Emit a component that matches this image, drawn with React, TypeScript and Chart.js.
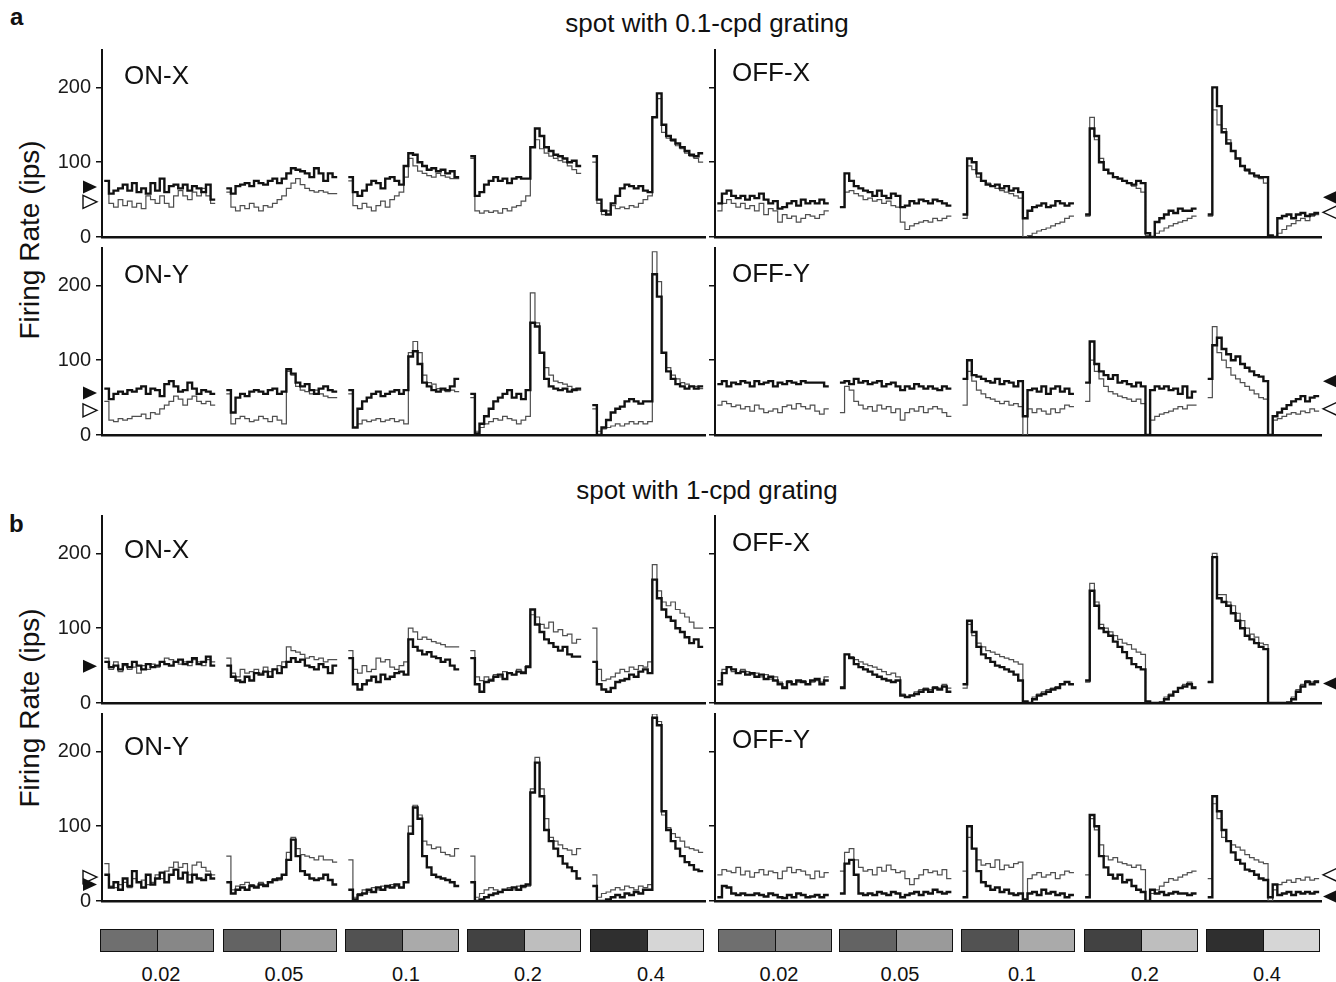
import React, { useEffect, useRef } from 'react';
import { Chart, registerables } from 'chart.js';

Chart.register(...registerables);

const FONT = '"Liberation Sans", Arial, Helvetica, sans-serif';

// ---- structure ----
const BINS = 24; // bins per contrast segment
const GAP = 2.4; // gap between segments (in bins)
const Y_TICKS = [0, 100, 200];
const Y_MAX = 250;
const contrasts = ['0.02', '0.05', '0.1', '0.2', '0.4'];
const darkShade = ['#6f6f6f', '#636363', '#525252', '#424242', '#2f2f2f'];
const lightShade = ['#878787', '#9a9a9a', '#aaaaaa', '#bebebe', '#d6d6d6'];

// ---- a: spot with 0.1-cpd grating ----
const aOnXThick = [
  75, 58, 62, 65, 70, 62, 72, 60, 65, 58, 72, 62, 78, 60, 68, 70, 65, 70, 62, 68, 65, 60, 70, 50,
  65, 58, 68, 70, 72, 68, 75, 72, 70, 75, 78, 72, 78, 85, 92, 90, 88, 85, 80, 92, 85, 75, 85, 80,
  80, 60, 55, 62, 70, 75, 72, 65, 78, 80, 75, 70, 95, 112, 110, 100, 95, 90, 92, 88, 90, 85, 88, 80,
  108, 55, 60, 70, 75, 80, 75, 78, 72, 78, 80, 78, 78, 120, 145, 135, 120, 115, 110, 108, 105, 100, 102, 95,
  108, 50, 35, 30, 45, 55, 65, 70, 68, 65, 68, 62, 60, 160, 192, 150, 135, 130, 125, 120, 115, 110, 108, 112,
];
const aOnXThin = [
  75, 45, 40, 50, 42, 48, 40, 45, 38, 55, 50, 45, 55, 45, 40, 55, 62, 55, 50, 60, 55, 65, 55, 45,
  60, 40, 35, 42, 38, 45, 40, 35, 42, 40, 45, 50, 55, 65, 72, 78, 70, 65, 62, 60, 62, 60, 58, 58,
  75, 42, 38, 45, 40, 35, 42, 48, 40, 50, 55, 60, 80, 105, 95, 88, 85, 82, 80, 85, 82, 80, 78, 78,
  105, 35, 32, 35, 33, 35, 32, 38, 35, 40, 42, 48, 55, 120, 130, 118, 112, 108, 105, 102, 100, 95, 90, 85,
  100, 45, 30, 35, 42, 38, 40, 38, 42, 40, 45, 50, 55, 160, 185, 140, 132, 128, 122, 118, 112, 108, 105, 100,
];
const aOffXThick = [
  45, 58, 62, 55, 52, 55, 50, 55, 52, 58, 50, 45, 48, 38, 40, 45, 48, 42, 50, 45, 48, 45, 50, 45,
  40, 85, 75, 68, 65, 62, 60, 55, 62, 55, 52, 58, 55, 40, 42, 48, 45, 50, 48, 45, 50, 48, 45, 42,
  30, 105, 100, 85, 75, 70, 68, 70, 65, 68, 62, 65, 60, 25, 35, 40, 42, 45, 40, 42, 48, 45, 42, 45,
  30, 145, 135, 100, 90, 85, 80, 78, 75, 72, 70, 75, 72, 5, 0, 20, 25, 30, 35, 32, 38, 35, 35, 38,
  30, 200, 175, 140, 125, 115, 105, 95, 90, 85, 82, 80, 80, 2, 0, 25, 28, 30, 25, 30, 32, 28, 30, 32,
];
const aOffXThin = [
  35, 45, 50, 45, 40, 45, 38, 42, 35, 45, 30, 38, 35, 20, 30, 25, 28, 20, 25, 30, 28, 25, 30, 35,
  40, 60, 62, 58, 55, 50, 52, 48, 50, 45, 48, 42, 40, 20, 10, 15, 18, 20, 22, 20, 25, 22, 25, 28,
  25, 95, 90, 80, 75, 72, 68, 65, 62, 60, 58, 55, 52, 0, 2, 5, 8, 10, 12, 15, 18, 20, 25, 28,
  28, 160, 130, 105, 90, 85, 80, 78, 75, 72, 68, 65, 60, 2, 0, 5, 8, 12, 15, 18, 20, 22, 25, 28,
  28, 170, 150, 145, 130, 115, 105, 95, 88, 85, 80, 78, 72, 2, 0, 5, 10, 15, 18, 22, 25, 22, 28, 30,
];
const aOnYThick = [
  62, 48, 55, 58, 55, 60, 58, 62, 65, 55, 62, 60, 52, 68, 72, 65, 58, 60, 70, 62, 55, 60, 58, 55,
  60, 30, 50, 55, 52, 58, 60, 58, 55, 60, 62, 55, 58, 88, 82, 70, 65, 68, 60, 55, 62, 65, 60, 58,
  60, 10, 35, 45, 50, 55, 58, 52, 55, 58, 60, 55, 60, 105, 112, 95, 70, 65, 60, 58, 62, 60, 65, 75,
  55, 2, 15, 25, 35, 45, 50, 55, 60, 50, 55, 48, 60, 150, 145, 110, 75, 65, 62, 60, 62, 58, 60, 62,
  40, 0, 10, 20, 30, 35, 38, 45, 48, 45, 42, 45, 45, 215, 185, 110, 85, 75, 68, 65, 62, 65, 62, 65,
];
const aOnYThin = [
  45, 20, 18, 22, 20, 22, 25, 25, 28, 22, 30, 28, 35, 40, 45, 52, 48, 40, 48, 52, 45, 42, 45, 40,
  55, 15, 22, 25, 22, 18, 20, 25, 22, 18, 25, 20, 15, 85, 80, 65, 60, 58, 55, 60, 55, 52, 50, 50,
  55, 10, 15, 20, 18, 20, 22, 18, 20, 22, 18, 20, 15, 110, 125, 110, 80, 70, 68, 62, 60, 58, 60, 58,
  50, 5, 10, 15, 18, 22, 20, 25, 22, 20, 15, 20, 25, 190, 150, 110, 90, 80, 72, 70, 68, 65, 62, 60,
  35, 5, 8, 10, 12, 15, 12, 15, 18, 15, 18, 15, 18, 245, 205, 110, 90, 80, 75, 70, 68, 65, 65, 62,
];
const aOffYThick = [
  68, 72, 65, 70, 68, 72, 70, 65, 72, 68, 70, 72, 65, 70, 68, 72, 70, 68, 72, 70, 70, 70, 70, 65,
  70, 72, 68, 75, 70, 72, 68, 70, 72, 65, 68, 70, 65, 60, 65, 62, 68, 65, 62, 65, 62, 60, 65, 62,
  75, 100, 80, 78, 75, 72, 70, 75, 68, 72, 70, 65, 72, 25, 60, 62, 58, 65, 55, 62, 65, 58, 62, 55,
  70, 125, 95, 85, 80, 75, 80, 70, 72, 68, 65, 70, 65, 0, 60, 65, 62, 65, 60, 62, 55, 65, 50, 58,
  75, 120, 130, 115, 108, 100, 105, 95, 90, 85, 80, 78, 72, 0, 25, 30, 35, 40, 45, 48, 52, 45, 50, 52,
];
const aOffYThin = [
  40, 45, 42, 38, 40, 35, 38, 32, 40, 35, 30, 32, 35, 30, 38, 40, 35, 42, 38, 35, 40, 32, 28, 35,
  30, 65, 60, 45, 40, 35, 38, 32, 40, 35, 38, 30, 35, 20, 30, 35, 32, 38, 30, 35, 38, 35, 30, 25,
  40, 85, 72, 60, 55, 50, 48, 45, 42, 45, 40, 42, 38, 0, 35, 30, 35, 32, 28, 35, 30, 35, 40, 38,
  45, 100, 85, 75, 65, 58, 55, 52, 50, 48, 45, 48, 42, 0, 20, 25, 28, 30, 32, 35, 38, 35, 40, 40,
  50, 145, 110, 100, 90, 80, 75, 70, 65, 60, 55, 50, 48, 0, 20, 22, 25, 28, 30, 28, 32, 30, 35, 32,
];

// ---- b: spot with 1-cpd grating ----
const bOnXThick = [
  55, 48, 50, 45, 52, 48, 55, 50, 45, 52, 48, 50, 55, 52, 50, 55, 58, 52, 55, 60, 52, 55, 62, 50,
  50, 35, 30, 28, 35, 30, 40, 38, 42, 35, 45, 40, 48, 55, 60, 55, 58, 50, 48, 45, 52, 48, 40, 50,
  60, 25, 18, 25, 30, 35, 28, 38, 32, 35, 40, 42, 38, 85, 75, 70, 65, 68, 62, 60, 55, 58, 50, 45,
  60, 25, 15, 28, 30, 35, 38, 32, 40, 38, 42, 40, 48, 125, 105, 95, 85, 80, 75, 70, 75, 65, 62, 62,
  55, 25, 18, 15, 20, 28, 30, 32, 38, 35, 42, 45, 40, 165, 140, 125, 115, 110, 100, 95, 88, 80, 85, 75,
];
const bOnXThin = [
  60, 45, 55, 42, 50, 45, 48, 40, 50, 45, 52, 48, 55, 60, 58, 55, 52, 55, 50, 58, 55, 50, 58, 55,
  60, 40, 35, 45, 40, 42, 45, 40, 48, 42, 45, 50, 55, 75, 70, 68, 65, 60, 62, 58, 60, 55, 58, 58,
  70, 45, 40, 50, 42, 45, 60, 55, 58, 48, 45, 50, 55, 100, 95, 85, 88, 85, 82, 80, 78, 75, 75, 75,
  70, 35, 30, 35, 32, 38, 35, 42, 40, 38, 45, 42, 50, 118, 115, 105, 100, 108, 95, 98, 90, 92, 80, 85,
  100, 45, 30, 32, 35, 40, 45, 42, 48, 45, 50, 48, 55, 185, 150, 135, 130, 135, 125, 120, 115, 108, 100, 100,
];
const bOffXThick = [
  25, 40, 48, 45, 40, 42, 38, 40, 35, 38, 32, 35, 30, 25, 20, 28, 25, 30, 28, 25, 30, 32, 25, 30,
  20, 65, 60, 52, 48, 45, 42, 38, 35, 32, 30, 28, 30, 10, 8, 10, 12, 15, 18, 15, 20, 18, 22, 15,
  25, 110, 95, 75, 65, 60, 55, 50, 48, 45, 42, 38, 30, 2, 0, 5, 10, 12, 15, 18, 20, 25, 28, 25,
  30, 150, 130, 100, 95, 90, 82, 75, 68, 60, 52, 48, 45, 2, 0, 0, 0, 5, 10, 15, 20, 22, 25, 20,
  28, 195, 140, 135, 130, 120, 110, 100, 90, 85, 80, 75, 72, 0, 0, 0, 0, 0, 5, 15, 22, 28, 25, 28,
];
const bOffXThin = [
  30, 45, 48, 42, 40, 45, 42, 38, 40, 35, 38, 32, 35, 28, 22, 30, 25, 28, 30, 25, 28, 30, 28, 35,
  22, 65, 62, 58, 55, 52, 50, 48, 45, 42, 38, 40, 35, 12, 8, 10, 15, 18, 20, 18, 22, 20, 25, 20,
  20, 105, 90, 80, 75, 70, 68, 65, 62, 60, 58, 55, 52, 2, 0, 8, 12, 15, 18, 20, 22, 25, 28, 25,
  28, 160, 135, 105, 100, 95, 90, 85, 80, 78, 72, 68, 65, 0, 0, 0, 2, 8, 12, 15, 20, 25, 28, 22,
  28, 200, 145, 145, 135, 130, 120, 110, 100, 92, 88, 80, 78, 0, 0, 0, 0, 2, 8, 18, 25, 30, 28, 30,
];
const bOnYThick = [
  35, 18, 25, 15, 30, 20, 40, 25, 18, 35, 22, 30, 38, 25, 35, 42, 30, 38, 25, 35, 30, 28, 35, 30,
  25, 10, 15, 18, 15, 20, 18, 22, 20, 25, 28, 30, 35, 55, 82, 60, 40, 35, 30, 28, 30, 35, 28, 22,
  15, 2, 8, 10, 15, 12, 18, 15, 20, 18, 22, 18, 25, 90, 125, 110, 60, 45, 35, 32, 30, 28, 25, 20,
  25, 0, 2, 5, 8, 10, 12, 15, 15, 18, 15, 20, 22, 145, 185, 140, 95, 80, 70, 60, 50, 45, 40, 30,
  20, 0, 0, 2, 5, 8, 5, 10, 8, 12, 10, 15, 15, 245, 235, 120, 95, 80, 70, 60, 52, 48, 42, 40,
];
const bOnYThin = [
  50, 20, 18, 22, 25, 18, 30, 25, 28, 22, 25, 35, 30, 40, 45, 52, 45, 50, 35, 48, 52, 45, 40, 35,
  60, 15, 20, 22, 25, 22, 20, 25, 22, 25, 30, 28, 35, 65, 85, 70, 62, 60, 58, 55, 60, 55, 55, 52,
  55, 5, 10, 15, 12, 18, 15, 20, 18, 22, 20, 18, 25, 100, 128, 115, 80, 75, 70, 72, 65, 62, 60, 70,
  60, 5, 10, 15, 18, 15, 12, 15, 18, 15, 20, 18, 20, 150, 192, 150, 110, 85, 80, 75, 70, 68, 62, 70,
  35, 5, 10, 12, 15, 18, 15, 20, 18, 15, 20, 18, 22, 250, 240, 115, 98, 90, 85, 80, 72, 70, 68, 65,
];
const bOffYThick = [
  5, 20, 18, 10, 8, 10, 8, 8, 10, 8, 6, 10, 8, 5, 4, 8, 5, 10, 8, 5, 6, 8, 5, 8,
  10, 50, 55, 35, 10, 8, 10, 8, 12, 10, 8, 12, 10, 5, 8, 10, 12, 8, 12, 10, 15, 12, 10, 12,
  5, 100, 70, 40, 25, 20, 15, 18, 12, 15, 10, 8, 10, 2, 10, 12, 8, 15, 10, 12, 8, 10, 5, 8,
  5, 115, 100, 60, 45, 35, 30, 35, 25, 28, 20, 15, 12, 0, 15, 10, 12, 8, 10, 12, 10, 10, 8, 10,
  5, 140, 120, 95, 80, 65, 55, 50, 42, 40, 35, 30, 28, 5, 22, 8, 10, 12, 8, 12, 10, 12, 10, 12,
];
const bOffYThin = [
  35, 42, 40, 38, 45, 35, 40, 32, 38, 42, 35, 40, 38, 30, 40, 45, 38, 42, 40, 35, 30, 40, 32, 38,
  40, 65, 70, 55, 45, 40, 42, 35, 45, 40, 48, 42, 38, 40, 30, 22, 30, 35, 42, 38, 40, 35, 42, 30,
  40, 85, 70, 55, 48, 50, 45, 55, 42, 48, 45, 50, 52, 0, 30, 35, 38, 32, 35, 38, 30, 35, 40, 38,
  35, 110, 95, 75, 60, 55, 58, 52, 50, 48, 45, 48, 42, 0, 10, 15, 20, 25, 30, 28, 32, 35, 38, 40,
  30, 130, 110, 85, 80, 75, 72, 68, 62, 58, 55, 52, 50, 0, 15, 22, 25, 28, 25, 30, 28, 32, 28, 30,
];

// spontaneous-rate markers (ips)
const aOnXFilled = [67]; const aOnXOpen = [47];
const aOffXFilled = [53]; const aOffXOpen = [33];
const aOnYFilled = [56]; const aOnYOpen = [33];
const aOffYFilled = [72]; const aOffYOpen = [35];
const bOnXFilled = [49]; const bOnXOpen: number[] = [];
const bOffXFilled = [26]; const bOffXOpen: number[] = [];
const bOnYFilled = [22]; const bOnYOpen = [32];
const bOffYFilled = [6]; const bOffYOpen = [35];

function toPoints(vals: number[]) {
  const pts: { x: number; y: number | null }[] = [];
  for (let s = 0; s < contrasts.length; s++) {
    const x0 = s * (BINS + GAP);
    for (let i = 0; i < BINS; i++) pts.push({ x: x0 + i, y: vals[s * BINS + i] });
    pts.push({ x: x0 + BINS, y: vals[s * BINS + BINS - 1] });
    if (s < contrasts.length - 1) pts.push({ x: x0 + BINS + GAP / 2, y: null });
  }
  return pts;
}

type PanelProps = {
  thick: number[];
  thin: number[];
  filled: number[];
  open: number[];
  side: 'left' | 'right';
  top: number;
  bottom: number;
};

function Panel({ thick, thin, filled, open, side, top, bottom }: PanelProps) {
  const ref = useRef<HTMLCanvasElement>(null);
  const PAD_TOP = 12;
  const X_H = 6;
  const PAD_BOTTOM = 12;
  const canvasLeft = side === 'left' ? 40 : 700;
  const canvasW = side === 'left' ? 670 : 636;
  const axisW = side === 'left' ? 62 : 15;
  const padRight = side === 'left' ? 5 : 15;
  const canvasTop = top - PAD_TOP;
  const canvasH = bottom - top + PAD_TOP + X_H + PAD_BOTTOM;

  useEffect(() => {
    const markerPlugin = {
      id: 'rateMarkers',
      afterDraw(chart: any) {
        const { ctx, chartArea } = chart;
        const ys = chart.scales.y;
        const draw = (v: number, isFilled: boolean) => {
          const py = ys.getPixelForValue(v);
          ctx.save();
          ctx.beginPath();
          if (side === 'left') {
            const tip = chartArea.left - 5;
            const base = chartArea.left - 19;
            ctx.moveTo(tip, py);
            ctx.lineTo(base, py - 6.5);
            ctx.lineTo(base, py + 6.5);
          } else {
            const tip = chartArea.right + 2;
            const base = chartArea.right + 16;
            ctx.moveTo(tip, py);
            ctx.lineTo(base, py - 6.5);
            ctx.lineTo(base, py + 6.5);
          }
          ctx.closePath();
          if (isFilled) {
            ctx.fillStyle = '#111';
            ctx.fill();
          } else {
            ctx.fillStyle = '#fff';
            ctx.fill();
            ctx.lineWidth = 1.4;
            ctx.strokeStyle = '#111';
            ctx.stroke();
          }
          ctx.restore();
        };
        open.forEach((v) => draw(v, false));
        filled.forEach((v) => draw(v, true));
      },
    };

    const chart = new Chart(ref.current as HTMLCanvasElement, {
      type: 'line',
      data: {
        datasets: [
          {
            data: toPoints(thick) as any,
            borderColor: '#111111',
            borderWidth: 2.4,
            stepped: 'before',
            pointRadius: 0,
            pointHitRadius: 0,
            spanGaps: false,
            fill: false,
            borderJoinStyle: 'miter',
            borderCapStyle: 'butt',
            order: 0,
          },
          {
            data: toPoints(thin) as any,
            borderColor: '#4f4f4f',
            borderWidth: 1.2,
            stepped: 'before',
            pointRadius: 0,
            pointHitRadius: 0,
            spanGaps: false,
            fill: false,
            borderJoinStyle: 'miter',
            borderCapStyle: 'butt',
            order: 1,
          },
        ],
      },
      options: {
        responsive: false,
        animation: false,
        events: [],
        layout: { padding: { top: PAD_TOP, right: padRight, left: 0, bottom: PAD_BOTTOM } },
        plugins: { legend: { display: false }, tooltip: { enabled: false }, title: { display: false } },
        scales: {
          x: {
            type: 'linear',
            min: -0.5,
            max: 130,
            ticks: { display: false },
            grid: { display: false },
            border: { display: true, color: '#111', width: 2.6 },
            afterFit: (s: any) => {
              s.height = X_H;
              s.paddingLeft = 0;
              s.paddingRight = 0;
              s.paddingTop = 0;
              s.paddingBottom = 0;
            },
          },
          y: {
            type: 'linear',
            min: 0,
            max: Y_MAX,
            afterBuildTicks: (s: any) => {
              s.ticks = Y_TICKS.map((v) => ({ value: v }));
            },
            ticks: {
              display: true,
              padding: 5,
              color: '#1a1a1a',
              font: { family: FONT, size: 20 },
              callback: (v: any) => (side === 'left' ? String(v) : ''),
            },
            grid: {
              display: true,
              drawOnChartArea: false,
              drawTicks: true,
              tickLength: 6,
              color: '#111',
              lineWidth: 1.5,
            },
            border: { display: true, color: '#111', width: 2 },
            afterFit: (s: any) => {
              s.width = axisW;
              s.paddingTop = 0;
              s.paddingBottom = 0;
              s.paddingLeft = 0;
              s.paddingRight = 0;
            },
          },
        },
      },
      plugins: [markerPlugin],
    } as any);
    return () => chart.destroy();
  }, []);

  return (
    <canvas
      ref={ref}
      width={canvasW}
      height={canvasH}
      style={{ position: 'absolute', left: canvasLeft, top: canvasTop, width: canvasW, height: canvasH }}
    />
  );
}

const txt = (extra: React.CSSProperties): React.CSSProperties => ({
  position: 'absolute',
  fontFamily: FONT,
  lineHeight: 1,
  color: '#111',
  whiteSpace: 'nowrap',
  ...extra,
});

const swatchLefts = [100, 223, 345, 467, 590, 718, 839, 961, 1084, 1206];

export default function App() {
  const panelLabels: [string, number, number][] = [
    ['ON-X', 124, 62],
    ['OFF-X', 732, 59],
    ['ON-Y', 124, 261],
    ['OFF-Y', 732, 260],
    ['ON-X', 124, 536],
    ['OFF-X', 732, 529],
    ['ON-Y', 124, 733],
    ['OFF-Y', 732, 726],
  ];
  return (
    <div style={{ position: 'absolute', left: 0, top: 0, width: 1336, height: 982, background: '#fff', overflow: 'hidden' }}>
      <div style={txt({ left: 10, top: 5, fontSize: 24, fontWeight: 'bold' })}>a</div>
      <div style={txt({ left: 9, top: 512, fontSize: 24, fontWeight: 'bold' })}>b</div>
      <div style={txt({ left: 707, top: 10, fontSize: 26, transform: 'translateX(-50%)' })}>spot with 0.1-cpd grating</div>
      <div style={txt({ left: 707, top: 477, fontSize: 26, transform: 'translateX(-50%)' })}>spot with 1-cpd grating</div>
      <div style={txt({ left: 30, top: 240, fontSize: 28, transform: 'translate(-50%, -50%) rotate(-90deg)' })}>Firing Rate (ips)</div>
      <div style={txt({ left: 30, top: 708, fontSize: 28, transform: 'translate(-50%, -50%) rotate(-90deg)' })}>Firing Rate (ips)</div>

      <Panel thick={aOnXThick} thin={aOnXThin} filled={aOnXFilled} open={aOnXOpen} side="left" top={50} bottom={237} />
      <Panel thick={aOffXThick} thin={aOffXThin} filled={aOffXFilled} open={aOffXOpen} side="right" top={50} bottom={237} />
      <Panel thick={aOnYThick} thin={aOnYThin} filled={aOnYFilled} open={aOnYOpen} side="left" top={248} bottom={435} />
      <Panel thick={aOffYThick} thin={aOffYThin} filled={aOffYFilled} open={aOffYOpen} side="right" top={248} bottom={435} />
      <Panel thick={bOnXThick} thin={bOnXThin} filled={bOnXFilled} open={bOnXOpen} side="left" top={516} bottom={703} />
      <Panel thick={bOffXThick} thin={bOffXThin} filled={bOffXFilled} open={bOffXOpen} side="right" top={516} bottom={703} />
      <Panel thick={bOnYThick} thin={bOnYThin} filled={bOnYFilled} open={bOnYOpen} side="left" top={714} bottom={901} />
      <Panel thick={bOffYThick} thin={bOffYThin} filled={bOffYFilled} open={bOffYOpen} side="right" top={714} bottom={901} />

      {panelLabels.map(([t, l, tp], i) => (
        <div key={'pl' + i} style={txt({ left: l, top: tp, fontSize: 26 })}>{t}</div>
      ))}

      {swatchLefts.map((l, i) => {
        const c = i % contrasts.length;
        return (
          <React.Fragment key={'sw' + i}>
            <div
              style={{
                position: 'absolute',
                left: l,
                top: 929,
                width: 114,
                height: 23,
                boxSizing: 'border-box',
                border: '1.5px solid #111',
                display: 'flex',
              }}
            >
              <div style={{ flex: 1, background: darkShade[c], borderRight: '1.5px solid #111' }} />
              <div style={{ flex: 1, background: lightShade[c] }} />
            </div>
            <div style={txt({ left: l + 61, top: 964, fontSize: 20, transform: 'translateX(-50%)' })}>{contrasts[c]}</div>
          </React.Fragment>
        );
      })}
    </div>
  );
}
